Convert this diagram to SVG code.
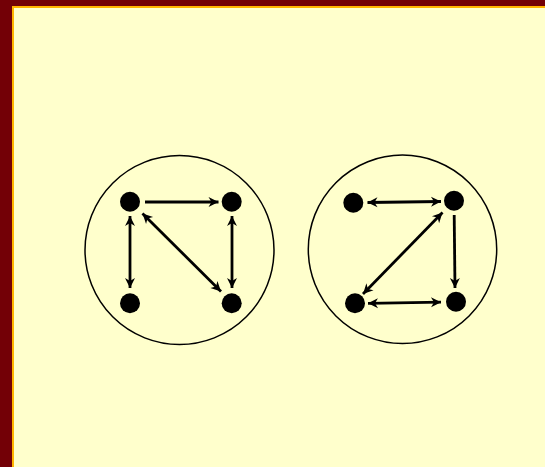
<svg xmlns="http://www.w3.org/2000/svg" width="545" height="467" viewBox="0 0 545 467">
<style>
.ring{fill:none;stroke:#000;stroke-width:1.5}
.dot{fill:#000}
.edge{stroke:#000;stroke-width:2.8;fill:none}
.one{marker-end:url(#ah)}
.two{marker-start:url(#ah);marker-end:url(#ah)}
</style>
<defs>
<marker id="ah" markerUnits="userSpaceOnUse" markerWidth="12" markerHeight="12" viewBox="0 0 12 12" refX="11" refY="6" orient="auto-start-reverse">
<path d="M1,1 L11,6 L1,11 L4,6 z" fill="#000"/>
</marker>
</defs>
<rect x="0" y="0" width="545" height="467" fill="#730006"/>
<rect x="13" y="7" width="540" height="470" fill="#FFFFCC" stroke="#FFB400" stroke-width="2"/>
<g id="group1">
<circle class="ring" cx="179.5" cy="250" r="94.5"/>
</g>
<g id="group2">
<circle class="ring" cx="402.5" cy="249.3" r="94.2"/>
</g>
<g id="n1a"><circle class="dot" cx="130" cy="201.7" r="10"/></g>
<g id="n1b"><circle class="dot" cx="231.7" cy="201.7" r="10"/></g>
<g id="n1c"><circle class="dot" cx="130" cy="303.3" r="10"/></g>
<g id="n1d"><circle class="dot" cx="231.7" cy="303.3" r="10"/></g>
<g id="n2a"><circle class="dot" cx="353.3" cy="202.7" r="10"/></g>
<g id="n2b"><circle class="dot" cx="454" cy="200.7" r="10"/></g>
<g id="n2c"><circle class="dot" cx="355" cy="303.3" r="10"/></g>
<g id="n2d"><circle class="dot" cx="456" cy="301.7" r="10"/></g>
<g id="connectors">
<line class="edge one" x1="145" y1="202" x2="218.5" y2="202"/>
<line class="edge two" x1="130" y1="216" x2="130" y2="288"/>
<line class="edge two" x1="232" y1="216" x2="232" y2="288"/>
<line class="edge two" x1="142.5" y1="213.5" x2="221" y2="291.5"/>
<line class="edge two" x1="367.5" y1="202.5" x2="441" y2="201.5"/>
<line class="edge two" x1="442.5" y1="212.5" x2="363" y2="294"/>
<line class="edge one" x1="454.2" y1="215" x2="455" y2="288"/>
<line class="edge two" x1="368" y1="303.3" x2="441" y2="302.2"/>
</g>
</svg>
